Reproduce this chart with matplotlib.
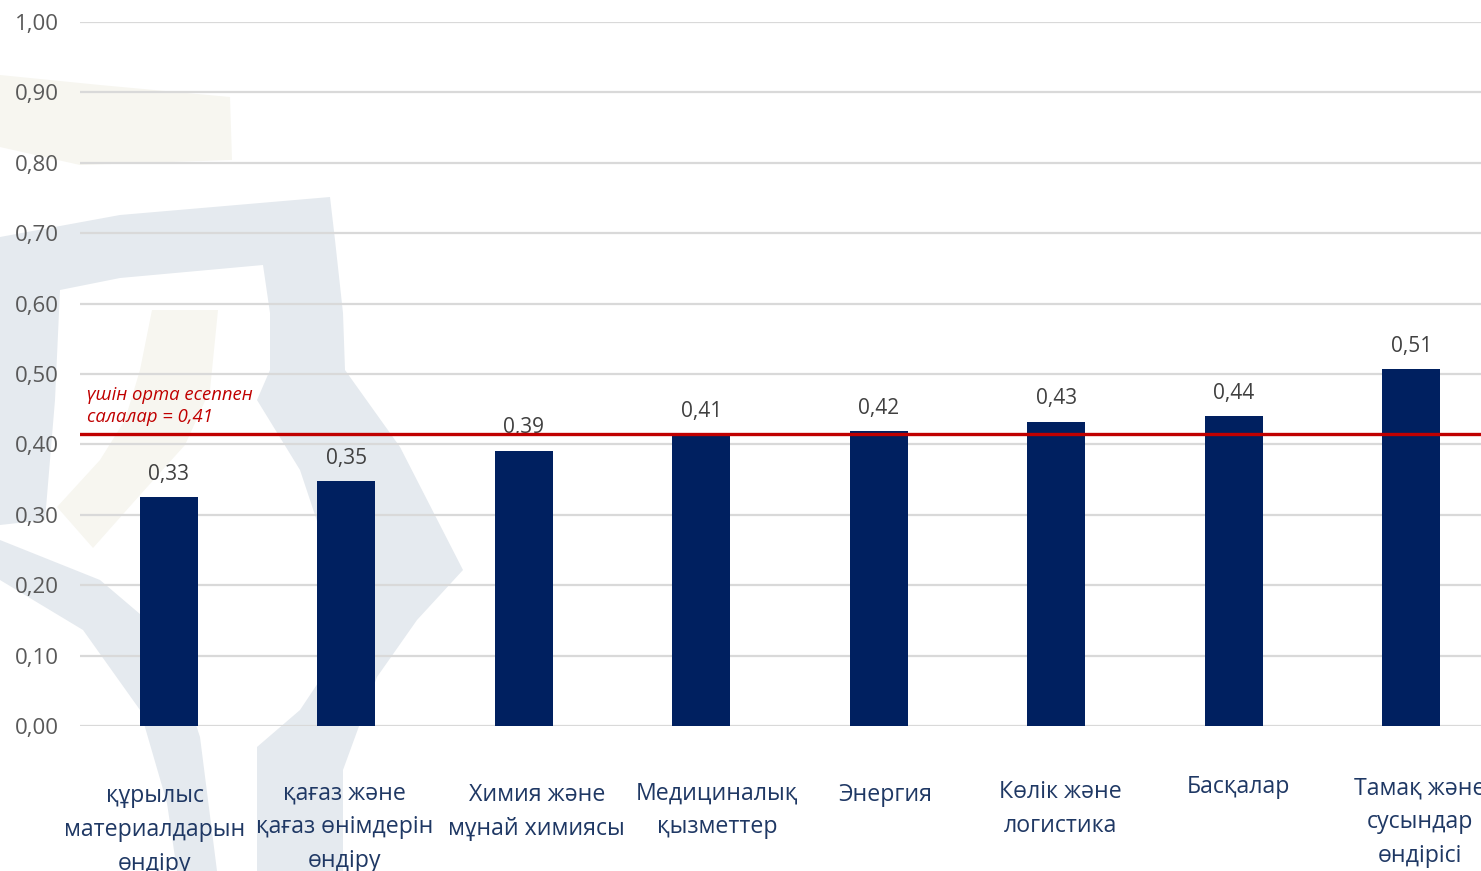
import matplotlib
matplotlib.use("Agg")
import matplotlib.pyplot as plt
from matplotlib.patches import Polygon

# ---------------- data ----------------
categories = [
    "құрылыс\nматериалдарын\nөндіру",
    "қағаз және\nқағаз өнімдерін\nөндіру",
    "Химия және\nмұнай химиясы",
    "Медициналық\nқызметтер",
    "Энергия",
    "Көлік және\nлогистика",
    "Басқалар",
    "Тамақ және\nсусындар\nөндірісі",
]
values = [0.325, 0.348, 0.391, 0.414, 0.419, 0.432, 0.440, 0.507]
value_labels = ["0,33", "0,35", "0,39", "0,41", "0,42", "0,43", "0,44", "0,51"]
average_value = 0.415
average_label = "үшін орта есеппен\nсалалар = 0,41"
yticks = [0.0, 0.1, 0.2, 0.3, 0.4, 0.5, 0.6, 0.7, 0.8, 0.9, 1.0]
ytick_labels = ["0,00", "0,10", "0,20", "0,30", "0,40", "0,50",
                "0,60", "0,70", "0,80", "0,90", "1,00"]

# label layout (pixel offsets of category text boxes)
label_dx = [-14, -2, 13, 16, 7, 4, 5, 9]
label_top = [784, 781, 783, 781, 783, 780, 775, 776]

plt.rcParams['font.family'] = ['Open Sans', 'DejaVu Sans']

W, H = 1481, 871
fig = plt.figure(figsize=(W / 100, H / 100), dpi=100)
fig.patch.set_facecolor("white")

# ---------------- decorative watermark ----------------
bg = fig.add_axes([0, 0, 1, 1], zorder=0)
bg.set_xlim(0, W)
bg.set_ylim(H, 0)
bg.axis("off")
grey = "#E5EAEF"
beige = "#F7F6F0"
shapes = [
    (beige, [(0, 75), (100, 85), (230, 97), (232, 160), (80, 165), (0, 147)]),
    (beige, [(152, 310), (218, 310), (210, 390), (185, 445), (140, 495), (93, 548),
             (57, 507), (100, 460), (125, 420), (140, 370)]),
    (grey, [(0, 237), (120, 215), (330, 197), (335, 240), (343, 313), (345, 370),
            (400, 447), (463, 570), (417, 620), (377, 677), (343, 770), (343, 871),
            (257, 871), (257, 747), (300, 710), (340, 650), (330, 560), (300, 470),
            (257, 400), (270, 370), (270, 313), (263, 265), (120, 278), (60, 290),
            (55, 400), (45, 520), (0, 525)]),
    (grey, [(0, 540), (100, 580), (167, 637), (200, 737), (217, 871), (177, 871),
            (167, 803), (140, 710), (83, 630), (0, 580)]),
]
for col, pts in shapes:
    bg.add_patch(Polygon(pts, closed=True, facecolor=col, edgecolor="none"))

# ---------------- main axes ----------------
left_px, right_px, bottom_px, top_px = 80, 1500, 726, 22
ax = fig.add_axes([left_px / W, (H - bottom_px) / H,
                   (right_px - left_px) / W, (bottom_px - top_px) / H], zorder=1)
ax.patch.set_alpha(0)

x = list(range(len(categories)))
bars = ax.bar(x, values, width=0.327, color="#002060", zorder=3)

ax.set_xlim(-0.5, len(categories) - 0.5)
ax.set_ylim(0, 1.0)
ax.set_yticks(yticks)
ax.set_yticklabels(ytick_labels)
ax.tick_params(axis="y", length=0, pad=15.5, labelsize=16, labelcolor="#595959")
ax.set_xticks([])
ax.grid(axis="y", color="#D9D9D9", linewidth=1.6, zorder=0)
for s in ax.spines.values():
    s.set_visible(False)

for xi, v, lab in zip(x, values, value_labels):
    ax.annotate(lab, (xi, v), xytext=(0, 9), textcoords="offset points",
                ha="center", va="bottom", fontsize=15, color="#404040", zorder=4)

ax.axhline(average_value, color="#C00000", linewidth=2.4, zorder=5)
ax.text(0.005, average_value + 0.011, average_label, transform=ax.get_yaxis_transform(),
        ha="left", va="bottom", fontsize=13.3, style="italic", color="#C00000",
        linespacing=1.32, zorder=6)

# category labels
for xi, lab, dx, ty in zip(x, categories, label_dx, label_top):
    px = ax.transData.transform((xi, 0))[0] + dx
    fig.text(px / W, 1 - ty / H, lab, ha="center", va="top", fontsize=16.7,
             color="#1F3864", linespacing=1.55, multialignment="center")

fig.savefig("out.png", dpi=100, facecolor="white")
